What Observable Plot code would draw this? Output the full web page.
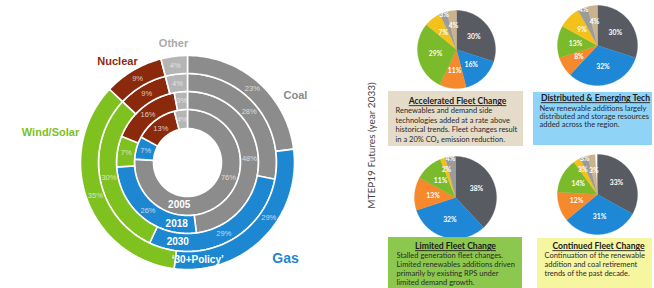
<!DOCTYPE html>
<html><head><meta charset="utf-8">
<script src="https://cdn.jsdelivr.net/npm/d3@7"></script>
<script src="https://cdn.jsdelivr.net/npm/@observablehq/plot@0.6"></script>
<style>html,body{margin:0;padding:0;background:#fff;}</style>
</head><body><div id="chart"></div>
<script>
// ---------------- data ----------------
const fuels = ["Coal", "Gas", "Wind/Solar", "Nuclear", "Other"];
const rings = ["2005", "2018", "2030", "\u201830+Policy\u2019"];
const coal = [76, 48, 28, 23];
const gas = [7, 26, 29, 29];
const windSolar = [0, 7, 30, 35];
const nuclear = [13, 16, 9, 9];
const other = [4, 3, 4, 4];

const futures = ["Accelerated Fleet Change", "Distributed & Emerging Tech", "Limited Fleet Change", "Continued Fleet Change"];
const pieKinds = ["Coal", "Gas", "Nuclear", "Wind", "Solar", "Other", "Distributed"];
const accelerated = [30, 16, 11, 29, 7, 3, 4];
const distributed = [30, 32, 8, 13, 9, 4, 4];
const limited = [38, 32, 13, 11, 2, 4, 0];
const continued = [33, 31, 12, 14, 3, 3, 3];
const descriptions = [
  ["Renewables and demand side", "technologies added at a rate above", "historical trends. Fleet changes result", "in a 20% CO\u2082 emission reduction."],
  ["New renewable additions largely", "distributed and storage resources", "added across the region."],
  ["Stalled generation fleet changes.", "Limited renewables additions driven", "primarily by existing RPS under", "limited demand growth."],
  ["Continuation of the renewable", "addition and coal retirement", "trends of the past decade."]
];
const axisTitle = "MTEP19 Futures (year 2033)";

// ---------------- layout / style ----------------
const W = 654, H = 288;
const donut = {cx: 187, cy: 162, radii: [34, 53, 71, 89, 107]};
const fuelColors = ["#8c8c8c", "#1d87d1", "#7fc11f", "#8a290c", "#b5b5b5"];
const fuelLabelColors = ["#8a8a8a", "#1f86cf", "#7dbf22", "#8e2a0c", "#a9a9a9"];
const fuelLabelPos = [[295, 95], [285, 258], [50, 132], [117, 61], [173, 43]];
const fuelLabelSize = [11, 14, 11, 11, 11];
const ringLabelAngle = [191, 190, 187, 174];
const donutLabelAngle = {"0-0": 110, "3-1": 124}; // label placement tweaks (ring-fuel)

const pieLayout = [{cx: 456, cy: 49, r: 39}, {cx: 597, cy: 45, r: 40}, {cx: 455, cy: 197, r: 41}, {cx: 597, cy: 194, r: 40}];
const pieColors = ["#585c62", "#1e88d6", "#f5892c", "#7bba2b", "#f4c11b", "#9b9b9b", "#c8b38d"];
const smallLabelRadius = [0.6, 0.6, 0.6, 0.6, 0.72, 0.95, 0.6];
const boxes = [
  {x1: 388, y1: 91, x2: 523, y2: 146, fill: "#e5dbc9", tx: 457, ty: 101, bx: 395, by: 110, lh: 9.6},
  {x1: 533, y1: 92, x2: 652, y2: 145, fill: "#8fd3f6", tx: 595, ty: 98, bx: 539, by: 108, lh: 8.2},
  {x1: 388, y1: 237, x2: 522, y2: 290, fill: "#8cc84e", tx: 455, ty: 246, bx: 396, by: 255.5, lh: 8.7},
  {x1: 537, y1: 238, x2: 652, y2: 290, fill: "#f6f5a0", tx: 598, ty: 246, bx: 544, by: 255.5, lh: 8.7}
];

// ---------------- geometry helpers ----------------
const rad = Math.PI / 180;
const pt = (cx, cy, r, a) => [cx + r * Math.sin(a * rad), cy - r * Math.cos(a * rad)];
function wedge(id, color, cx, cy, r0, r1, a0, a1) {
  const pts = [];
  const n = Math.max(2, Math.ceil((a1 - a0) / 1.5));
  for (let i = 0; i <= n; i++) { const [x, y] = pt(cx, cy, r1, a0 + (a1 - a0) * i / n); pts.push({id, color, x, y}); }
  if (r0 > 0) for (let i = n; i >= 0; i--) { const [x, y] = pt(cx, cy, r0, a0 + (a1 - a0) * i / n); pts.push({id, color, x, y}); }
  else pts.push({id, color, x: cx, y: cy});
  pts.push({...pts[0]});
  return pts;
}

// donut
const ringValues = rings.map((_, i) => [coal[i], gas[i], windSolar[i], nuclear[i], other[i]]);
const donutPolys = [], donutLabels = [], ringLabels = [];
ringValues.forEach((vals, i) => {
  const r0 = donut.radii[i], r1 = donut.radii[i + 1];
  let acc = 0;
  vals.forEach((v, j) => {
    if (v <= 0) return;
    const a0 = acc * 3.6, a1 = (acc + v) * 3.6; acc += v;
    donutPolys.push(...wedge(`d${i}-${j}`, fuelColors[j], donut.cx, donut.cy, r0, r1, a0, a1));
    const la = donutLabelAngle[`${i}-${j}`] ?? (a0 + a1) / 2;
    const [x, y] = pt(donut.cx, donut.cy, (r0 + r1) / 2, la);
    donutLabels.push({x, y, text: v + "%"});
  });
  const [x, y] = pt(donut.cx, donut.cy, (r0 + r1) / 2, ringLabelAngle[i]);
  ringLabels.push({x, y, text: rings[i]});
});
const fuelLabels = fuels.map((f, j) => ({x: fuelLabelPos[j][0], y: fuelLabelPos[j][1], text: f, color: fuelLabelColors[j], size: fuelLabelSize[j]}));

// pies
const pieValues = [accelerated, distributed, limited, continued];
const piePolys = [], pieLabels = [];
pieValues.forEach((vals, i) => {
  const {cx, cy, r} = pieLayout[i];
  let acc = 0;
  vals.forEach((v, j) => {
    if (v <= 0) return;
    const a0 = acc * 3.6, a1 = (acc + v) * 3.6; acc += v;
    piePolys.push(...wedge(`p${i}-${j}`, pieColors[j], cx, cy, 0, r, a0, a1));
    const [x, y] = pt(cx, cy, r * (v < 5 ? smallLabelRadius[j] : 0.55), (a0 + a1) / 2);
    pieLabels.push({x, y, text: v + "%"});
  });
});

const titleItems = futures.map((t, i) => ({x: boxes[i].tx, y: boxes[i].ty, text: t}));
const bodyItems = descriptions.flatMap((lines, i) => lines.map((t, k) => ({x: boxes[i].bx, y: boxes[i].by + k * boxes[i].lh, text: t})));

const lato = "Lato, 'Open Sans', sans-serif";
const arial = "'Liberation Sans', Arial, sans-serif";

const chart = Plot.plot({
  width: W, height: H, margin: 0,
  x: {domain: [0, W], range: [0, W], axis: null},
  y: {domain: [0, H], range: [0, H], axis: null},
  color: {type: "identity"},
  style: {background: "#fff"},
  marks: [
    Plot.line(donutPolys, {x: "x", y: "y", z: "id", fill: "color", stroke: "#fff", strokeWidth: 1.6, strokeLinejoin: "round", curve: "linear"}),
    Plot.text(donutLabels, {x: "x", y: "y", text: "text", fill: "#f0f0f0", fillOpacity: 0.8, fontSize: 7.5, fontFamily: arial}),
    Plot.text(ringLabels, {x: "x", y: "y", text: "text", fill: "#fff", fontSize: 10, fontWeight: "bold", fontFamily: arial}),
    Plot.text(fuelLabels, {x: "x", y: "y", text: "text", fill: "color", fontSize: d => d.size, fontWeight: "bold", fontFamily: arial}),
    Plot.line(piePolys, {x: "x", y: "y", z: "id", fill: "color", stroke: "color", strokeWidth: 0.3, curve: "linear"}),
    Plot.text(pieLabels, {x: "x", y: "y", text: "text", fill: "#fff", fontSize: 6.8, fontWeight: "bold", fontFamily: lato}),
    Plot.rect(boxes, {x1: "x1", x2: "x2", y1: "y1", y2: "y2", fill: "fill"}),
    Plot.text(titleItems, {x: "x", y: "y", text: "text", fill: "#1a1a1a", fontSize: 8.6, fontWeight: "bold", fontFamily: lato}),
    Plot.text(bodyItems, {x: "x", y: "y", text: "text", fill: "#2a2a2a", fontSize: 7.5, textAnchor: "start", fontFamily: lato}),
    Plot.text([{x: 371, y: 145, text: axisTitle}], {x: "x", y: "y", text: "text", rotate: -90, fill: "#444", fontSize: 10, fontFamily: lato})
  ]
});
chart.querySelectorAll("text").forEach(t => { if (futures.includes(t.textContent)) t.style.textDecoration = "underline"; });
document.getElementById("chart").appendChild(chart);
</script>
</body></html>
